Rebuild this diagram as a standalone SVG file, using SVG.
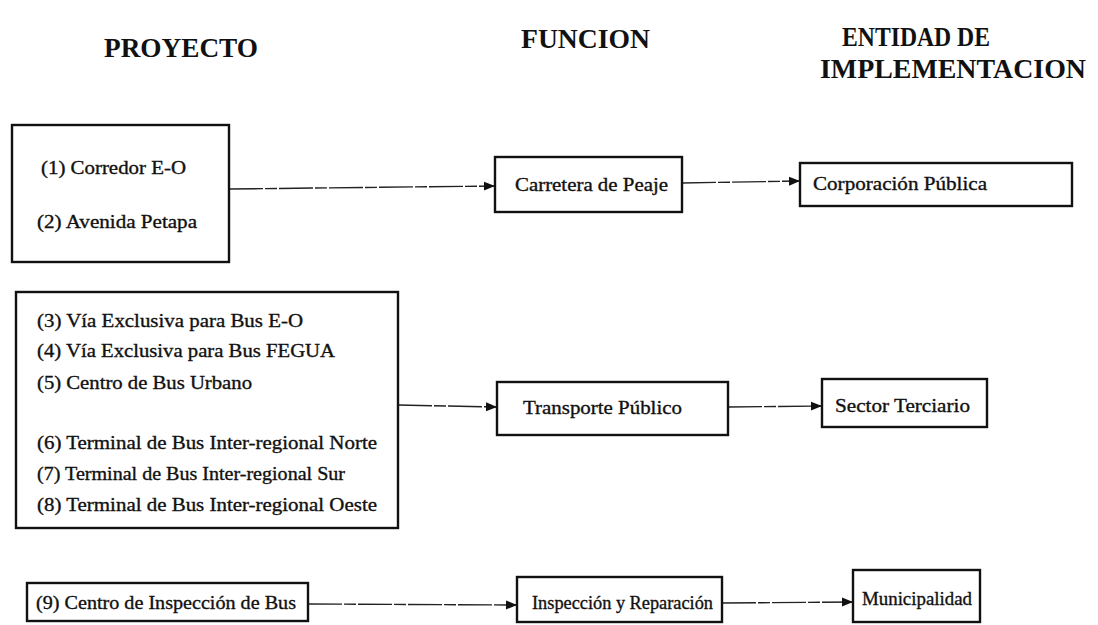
<svg xmlns="http://www.w3.org/2000/svg" width="1098" height="625" viewBox="0 0 1098 625">
  <style>
    .hdr { font-family: "Liberation Serif", "Times New Roman", serif; font-weight: bold; font-size: 28px; fill: #111; }
    .lbl { font-family: "Liberation Serif", "Times New Roman", serif; font-size: 19px; fill: #111; stroke: #111; stroke-width: 0.35; }
    .box { fill: #fff; stroke: #111; stroke-width: 2.4; }
    .link { fill: none; stroke: #222; stroke-width: 1.4; stroke-dasharray: 34 2 12 2; }
  </style>
  <defs>
    <marker id="arrow" markerUnits="userSpaceOnUse" markerWidth="12" markerHeight="12" refX="11" refY="6" orient="auto">
      <path d="M0,1.5 L11,6 L0,10.5 Z" fill="#111"/>
    </marker>
  </defs>
  <rect width="1098" height="625" fill="#fff"/>

  <!-- column headings -->
  <g id="headings">
    <text class="hdr" x="104" y="57" textLength="154" lengthAdjust="spacingAndGlyphs">PROYECTO</text>
    <text class="hdr" x="521" y="48" textLength="129" lengthAdjust="spacingAndGlyphs">FUNCION</text>
    <text class="hdr" x="842" y="46" textLength="148" lengthAdjust="spacingAndGlyphs">ENTIDAD DE</text>
    <text class="hdr" x="820" y="78" textLength="266" lengthAdjust="spacingAndGlyphs">IMPLEMENTACION</text>
  </g>

  <!-- connectors -->
  <g id="connectors">
    <line class="link" x1="229" y1="189" x2="495" y2="186" marker-end="url(#arrow)"/>
    <line class="link" x1="682" y1="183" x2="800" y2="181" marker-end="url(#arrow)"/>
    <line class="link" x1="398" y1="405" x2="497" y2="407" marker-end="url(#arrow)"/>
    <line class="link" x1="728" y1="407" x2="822" y2="406" marker-end="url(#arrow)"/>
    <line class="link" x1="308" y1="604" x2="517" y2="605" marker-end="url(#arrow)"/>
    <line class="link" x1="722" y1="603" x2="853" y2="602" marker-end="url(#arrow)"/>
  </g>

  <!-- projects -->
  <g id="proyecto-1-2">
    <rect class="box" x="12" y="125" width="217" height="137"/>
    <text class="lbl" x="41" y="174" textLength="145" lengthAdjust="spacingAndGlyphs">(1) Corredor E-O</text>
    <text class="lbl" x="37" y="228" textLength="160" lengthAdjust="spacingAndGlyphs">(2) Avenida Petapa</text>
  </g>
  <g id="proyecto-3-8">
    <rect class="box" x="16" y="292" width="382" height="236"/>
    <text class="lbl" x="37" y="327" textLength="266" lengthAdjust="spacingAndGlyphs">(3) Vía Exclusiva para Bus E-O</text>
    <text class="lbl" x="37" y="357" textLength="298" lengthAdjust="spacingAndGlyphs">(4) Vía Exclusiva para Bus FEGUA</text>
    <text class="lbl" x="37" y="389" textLength="215" lengthAdjust="spacingAndGlyphs">(5) Centro de Bus Urbano</text>
    <text class="lbl" x="37" y="449" textLength="340" lengthAdjust="spacingAndGlyphs">(6) Terminal de Bus Inter-regional Norte</text>
    <text class="lbl" x="37" y="480" textLength="308" lengthAdjust="spacingAndGlyphs">(7) Terminal de Bus Inter-regional Sur</text>
    <text class="lbl" x="37" y="511" textLength="340" lengthAdjust="spacingAndGlyphs">(8) Terminal de Bus Inter-regional Oeste</text>
  </g>
  <g id="proyecto-9">
    <rect class="box" x="27" y="583" width="281" height="38"/>
    <text class="lbl" x="36" y="609" textLength="260" lengthAdjust="spacingAndGlyphs">(9) Centro de Inspección de Bus</text>
  </g>

  <!-- functions -->
  <g id="funcion-peaje">
    <rect class="box" x="495" y="157" width="187" height="55"/>
    <text class="lbl" x="515" y="191" textLength="153" lengthAdjust="spacingAndGlyphs">Carretera de Peaje</text>
  </g>
  <g id="funcion-transporte">
    <rect class="box" x="497" y="382" width="231" height="53"/>
    <text class="lbl" x="523" y="414" textLength="159" lengthAdjust="spacingAndGlyphs">Transporte Público</text>
  </g>
  <g id="funcion-inspeccion">
    <rect class="box" x="517" y="577" width="205" height="45"/>
    <text class="lbl" x="532" y="609" textLength="181" lengthAdjust="spacingAndGlyphs">Inspección y Reparación</text>
  </g>

  <!-- implementing entities -->
  <g id="entidad-corporacion">
    <rect class="box" x="800" y="163" width="272" height="43"/>
    <text class="lbl" x="813" y="190" textLength="174" lengthAdjust="spacingAndGlyphs">Corporación Pública</text>
  </g>
  <g id="entidad-sector">
    <rect class="box" x="822" y="379" width="165" height="48"/>
    <text class="lbl" x="835" y="412" textLength="135" lengthAdjust="spacingAndGlyphs">Sector Terciario</text>
  </g>
  <g id="entidad-municipalidad">
    <rect class="box" x="853" y="570" width="127" height="52"/>
    <text class="lbl" x="862" y="605" textLength="110" lengthAdjust="spacingAndGlyphs">Municipalidad</text>
  </g>
</svg>
